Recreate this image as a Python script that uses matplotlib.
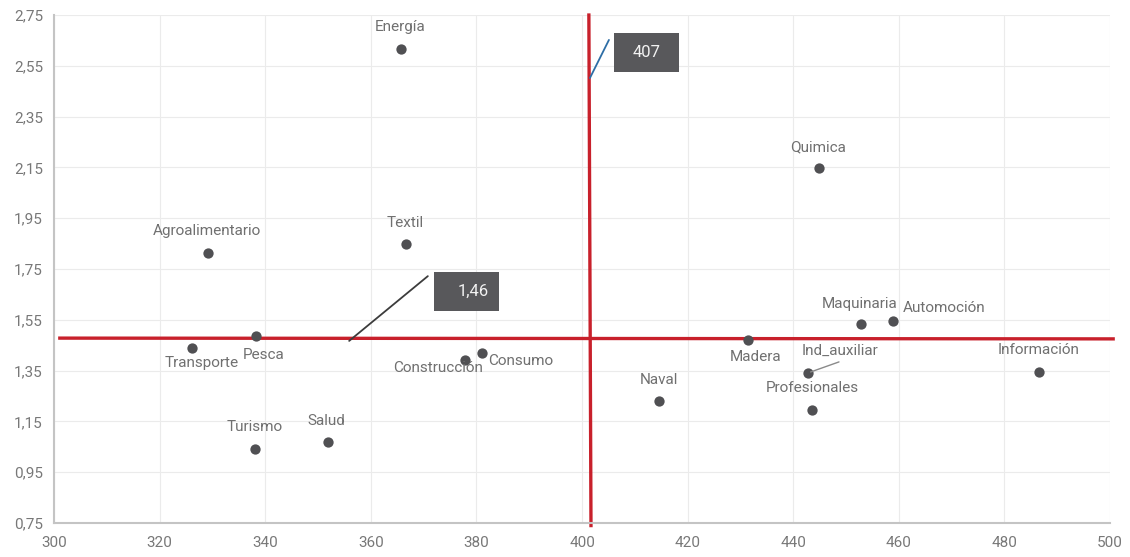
import matplotlib
matplotlib.use("Agg")
import matplotlib.pyplot as plt
import numpy as np

# ---- data ----
sectors = ["Energía", "Quimica", "Textil", "Agroalimentario", "Pesca", "Transporte",
           "Construcción", "Consumo", "Turismo", "Salud", "Naval", "Madera",
           "Ind_auxiliar", "Profesionales", "Maquinaria", "Automoción", "Información"]
x_vals = [365.7, 444.9, 366.7, 329.2, 338.3, 326.1, 377.8, 381.1, 338.1, 351.9,
          414.6, 431.4, 442.8, 443.6, 452.8, 458.9, 486.6]
y_vals = [2.616, 2.148, 1.848, 1.813, 1.486, 1.439, 1.392, 1.419, 1.041, 1.069,
          1.230, 1.470, 1.341, 1.195, 1.533, 1.545, 1.344]
ref_x = 401.5
ref_y = 1.478
ref_x_label = "407"
ref_y_label = "1,46"
x_ticks = [300, 320, 340, 360, 380, 400, 420, 440, 460, 480, 500]
y_ticks = [0.75, 0.95, 1.15, 1.35, 1.55, 1.75, 1.95, 2.15, 2.35, 2.55, 2.75]

# ---- layout / style ----
label_offsets = {  # pixels (dx, dy)
    "Energía": (-1, 22), "Quimica": (-1, 21), "Textil": (-1, 21),
    "Agroalimentario": (-1, 22), "Pesca": (7, -19), "Transporte": (10, -15),
    "Construcción": (-27, -8), "Consumo": (38, -8), "Turismo": (-1, 22),
    "Salud": (-2, 21), "Naval": (0, 21), "Madera": (8, -17),
    "Ind_auxiliar": (32, 22), "Profesionales": (0, 22), "Maquinaria": (-1, 20),
    "Automoción": (51, 13), "Información": (-1, 22),
}
FONT = ["Roboto", "DejaVu Sans"]
plt.rcParams["font.family"] = FONT
txt_color = "#707070"
dot_color = "#505053"
red = "#c8202b"

fig = plt.figure(figsize=(11.3, 5.57), dpi=100)
ax = fig.add_axes([0.0478, 0.061, 0.9345, 0.912])
ax.set_xlim(300, 500)
ax.set_ylim(0.75, 2.75)
ax.set_xticks(x_ticks)
ax.set_yticks(y_ticks)
ax.set_xticklabels([str(t) for t in x_ticks])
ax.set_yticklabels([f"{t:.2f}".replace(".", ",") for t in y_ticks])
ax.tick_params(length=0, labelsize=11, labelcolor="#787878")
ax.tick_params(axis="y", pad=8)
ax.tick_params(axis="x", pad=9)
ax.grid(True, color="#ebebeb", linewidth=0.8)
ax.set_axisbelow(True)
for s in ["top", "right"]:
    ax.spines[s].set_visible(False)
for s in ["left", "bottom"]:
    ax.spines[s].set_color("#c4c4c4")
    ax.spines[s].set_linewidth(1.5)

# reference lines
ax.plot([ref_x - 0.2, ref_x + 0.2], [2.75, 0.74], color=red, lw=2.4,
        clip_on=False, zorder=2)
ax.plot([301.1, 500.6], [ref_y, ref_y - 0.003], color=red, lw=2.4,
        clip_on=False, zorder=2)

# points
ax.scatter(x_vals, y_vals, s=55, color=dot_color, zorder=3, linewidths=0)

for name, x, y in zip(sectors, x_vals, y_vals):
    dx, dy = label_offsets[name]
    ax.annotate(name, (x, y), xytext=(dx, dy), textcoords="offset pixels",
                ha="center", va="center", fontsize=11, color=txt_color,
                zorder=4)

# leader for Ind_auxiliar
i = sectors.index("Ind_auxiliar")
ax.annotate("", (x_vals[i], y_vals[i]), xytext=(31, 11), textcoords="offset pixels",
            arrowprops=dict(arrowstyle="-", color="#8a8a8a", lw=1,
                            shrinkA=0, shrinkB=2))

# callouts
box_color = "#58585b"
ax.annotate("", (ref_x, 2.502), xytext=(405.1, 2.652),
            arrowprops=dict(arrowstyle="-", color="#2e6ea6", lw=1.3,
                            shrinkA=0, shrinkB=0))
ax.text(412.2, 2.602, ref_x_label, ha="center", va="center", fontsize=12,
        color="#f2f2f2", zorder=5)
ax.text(412.2, 2.602, " " * 10, ha="center", va="center", fontsize=12,
        zorder=4, bbox=dict(boxstyle="square,pad=0.72", fc=box_color, ec="none"))

ax.annotate("", (355.9, ref_y - 0.011), xytext=(370.8, 1.722),
            arrowprops=dict(arrowstyle="-", color="#3c3c3c", lw=1.3,
                            shrinkA=0, shrinkB=0))
ax.text(379.3, 1.661, ref_y_label, ha="center", va="center", fontsize=12,
        color="#f2f2f2", zorder=5)
ax.text(378.1, 1.661, " " * 10, ha="center", va="center", fontsize=12,
        zorder=4, bbox=dict(boxstyle="square,pad=0.72", fc=box_color, ec="none"))

fig.savefig("out.png", dpi=100)
